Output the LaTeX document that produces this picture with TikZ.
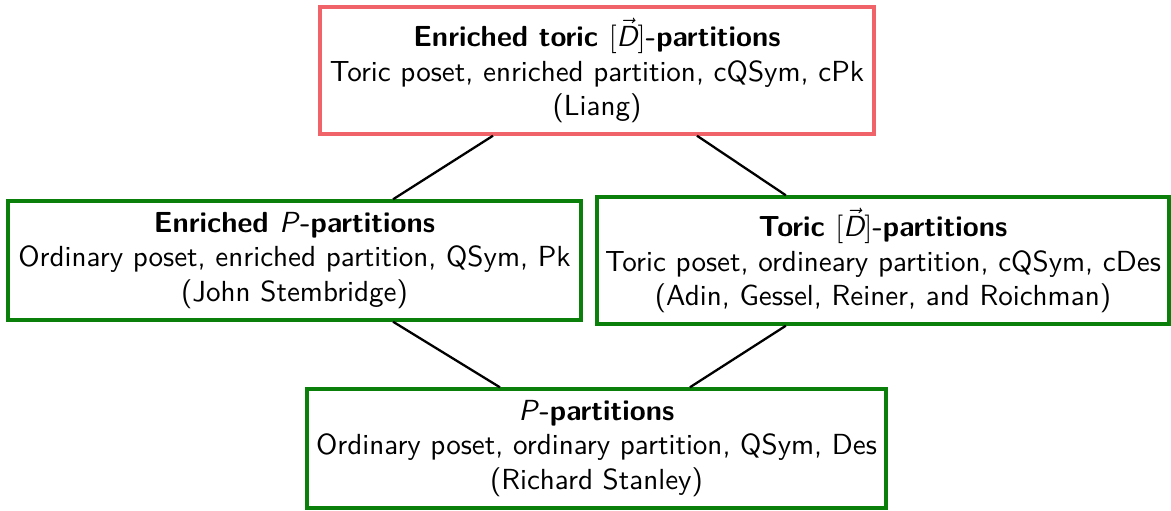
\documentclass[tikz,border=0pt]{standalone}
\usepackage{amsmath}
\usepackage{xcolor}
\usepackage{tikz}
\usetikzlibrary{positioning}
\definecolor{boxred}{RGB}{240,100,105}
\definecolor{boxgreen}{RGB}{10,128,10}
\newcommand{\itP}{\textnormal{\sffamily\itshape P}}
\newcommand{\vecD}{$[\vec{\text{\sffamily\mdseries\itshape D}}]$}
\tikzset{link/.style = {thick}}

\begin{document}
\begin{tikzpicture}[x=0.35pt,y=-0.35pt,main node/.style={draw,line width=1.2pt,align=center,font=\sffamily\fontsize{10.17}{12.1}\selectfont,inner sep=0pt}]
            \useasboundingbox (0,0) rectangle (1171,510);

            \node[main node,boxred,text=black,minimum width=193.9pt,minimum height=44.45pt] (1) at (597,70.5)
                {\textbf{Enriched toric \vecD-partitions}\\Toric poset, enriched partition, cQSym, cPk\\(Liang)};
            \node[main node,boxgreen,text=black,minimum width=200.55pt,minimum height=41.65pt] (2) at (294.5,260.5)
                {\textbf{Enriched \itP-partitions}\\Ordinary poset, enriched partition, QSym, Pk\\(John Stembridge)};
            \node[main node,boxgreen,text=black,minimum width=200.2pt,minimum height=44.45pt] (3) at (883,260.5)
                {\textbf{Toric \vecD-partitions}\\Toric poset, ordineary partition, cQSym, cDes\\(Adin, Gessel, Reiner, and Roichman)};
            \node[main node,boxgreen,text=black,minimum width=202.65pt,minimum height=41.65pt] (4) at (596.5,448.5)
                {\itP\textbf{-partitions}\\Ordinary poset, ordinary partition, QSym, Des\\(Richard Stanley)};

            \draw[link] ([xshift=-36.4pt]1.south) -- ([xshift=34.5pt]2.north);
            \draw[link] ([xshift=35pt]1.south) -- ([xshift=-34pt]3.north);
            \draw[link] ([xshift=34.5pt]2.south) -- ([xshift=-33.8pt]4.north);
            \draw[link] ([xshift=-34pt]3.south) -- ([xshift=32.7pt]4.north);

            %\draw[link] (2) -- (3);
        \end{tikzpicture}
\end{document}
